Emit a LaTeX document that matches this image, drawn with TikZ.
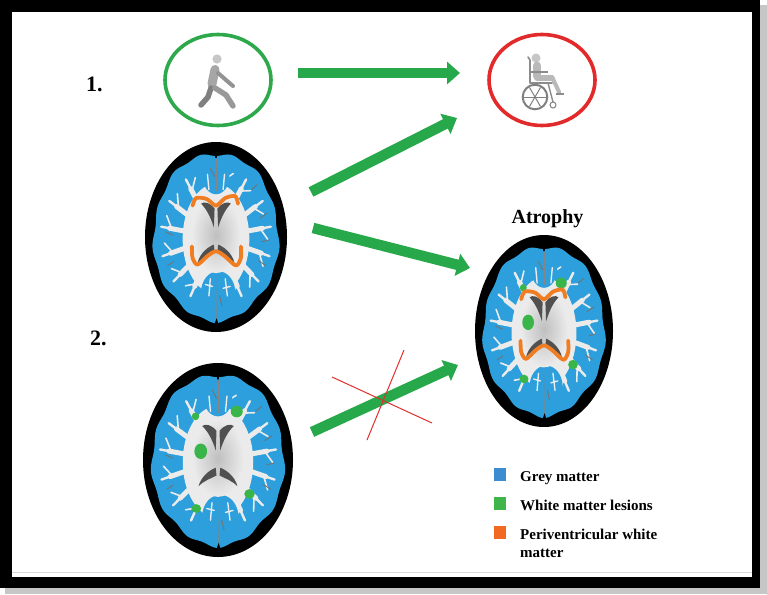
\documentclass[tikz,border=0pt]{standalone}
\usepackage{fontspec}
\setmainfont{Liberation Serif}
\usetikzlibrary{arrows.meta}
\definecolor{gmblue}{HTML}{2C9FDC}
\definecolor{wmc}{HTML}{EBEBEB}
\definecolor{arrowgreen}{HTML}{27A84A}
\definecolor{ringgreen}{HTML}{2DA84A}
\definecolor{ringred}{HTML}{E32A2A}
\definecolor{lesion}{HTML}{39B54A}
\definecolor{pvwm}{HTML}{F07D22}
\definecolor{ventc}{HTML}{505050}
\definecolor{legblue}{HTML}{3D8BD0}
\definecolor{leggreen}{HTML}{3DB54A}
\definecolor{legorange}{HTML}{F26A22}
\definecolor{xred}{HTML}{E0302F}
\tikzset{
  bigarrow/.style={draw=arrowgreen, line width=10.5pt, -{Triangle[length=13pt,width=22pt]}},
  crossline/.style={draw=xred, line width=1pt},
  ring/.style={line width=3.6pt},
  numlabel/.style={font=\bfseries\fontsize{22}{26}\selectfont, inner sep=0pt, anchor=base west},
  legtext/.style={font=\bfseries\fontsize{15}{18}\selectfont, inner sep=0pt, anchor=base west},
  legsq/.style={minimum size=12.5pt, inner sep=0pt, anchor=south west},
  wmline/.style={draw=wmc, line cap=round, line join=round},
  sulc/.style={draw=ventc!80, line width=0.9pt, line cap=round},
  pv/.style={draw=pvwm, line width=3.8pt, line cap=round, line join=round},
}
\newcommand\brainbase{%
  \fill[black] (0,0) ellipse [x radius=1, y radius=1];
  \fill[gmblue] plot[domain=0:358, samples=180] (\x:{0.88+0.015*sin(13*\x)+0.012*sin(5*\x)}) -- cycle;
  \fill[black] (-0.035,-0.93) -- (0,-0.8) -- (0.035,-0.93) -- cycle;
  \fill[black] (-0.025,0.93) -- (0.01,0.85) -- (0.035,0.93) -- cycle;
  \fill[wmc] (0,0.02) ellipse [x radius=0.47, y radius=0.58];
  \foreach \a/\l in {-55/0.74,-30/0.76,-8/0.78,15/0.78,38/0.76,60/0.72,
                     -125/0.74,-150/0.76,-172/0.78,165/0.78,142/0.76,120/0.72,
                     -80/0.76,-100/0.76}{
    \draw[wmline, line width=5pt] (\a:0.38) -- (\a:{\l-0.12});
    \draw[wmline, line width=2.4pt] (\a:0.5) -- (\a:\l);
    \draw[wmline, line width=1.6pt] (\a:{\l-0.15}) -- ({\a+10}:{\l-0.05});
  }
  \fill[gmblue] (0,-0.64) ellipse [x radius=0.19, y radius=0.19];
  \fill[gmblue] (0.03,0.58) ellipse [x radius=0.24, y radius=0.22];
  \draw[wmline, line width=1.4pt] (-0.08,0.44) -- (-0.1,0.62) (0.13,0.44) -- (0.16,0.62) (-0.05,0.52) -- (-0.15,0.5) (0.1,0.54) -- (0.2,0.52);
  \draw[wmline, line width=1.4pt] (-0.1,-0.5) -- (-0.12,-0.66) (0.1,-0.5) -- (0.12,-0.66);
  \shade[inner color=gray!50, outer color=wmc] (0,-0.02) ellipse [x radius=0.34, y radius=0.4];
  \draw[ventc!70, line width=0.8pt] (0,-0.82) -- (0,-0.48);
  \draw[ventc!70, line width=0.8pt] (0.02,0.38) -- (0.01,0.86);
  \fill[ventc] (-0.03,-0.1) .. controls (-0.08,-0.22) and (-0.14,-0.3) .. (-0.21,-0.35)
     .. controls (-0.17,-0.38) and (-0.08,-0.36) .. (-0.02,-0.3) -- cycle;
  \fill[ventc] (0.03,-0.1) .. controls (0.08,-0.22) and (0.14,-0.3) .. (0.21,-0.35)
     .. controls (0.17,-0.38) and (0.08,-0.36) .. (0.02,-0.3) -- cycle;
  \fill[ventc] (-0.03,0.08) .. controls (-0.1,0.1) and (-0.22,0.16) .. (-0.26,0.27)
     .. controls (-0.2,0.22) and (-0.1,0.19) .. (-0.02,0.16) -- cycle;
  \fill[ventc] (0.03,0.08) .. controls (0.1,0.1) and (0.22,0.16) .. (0.26,0.27)
     .. controls (0.2,0.22) and (0.1,0.19) .. (0.02,0.16) -- cycle;
  \draw[sulc] (0.62,-0.2) -- (0.72,-0.25) (0.65,0.05) -- (0.75,0.03) (0.6,0.25) -- (0.7,0.3)
     (-0.7,-0.05) -- (-0.6,-0.02) (-0.68,0.3) -- (-0.6,0.26) (0.5,-0.5) -- (0.58,-0.55)
     (-0.08,-0.72) -- (-0.02,-0.64) (0.05,0.62) -- (0.08,0.72);
}
\newcommand\greenparts{%
  \fill[lesion] (-0.3,-0.45) ellipse [x radius=0.05, y radius=0.04];
  \fill[lesion] (0.25,-0.5) ellipse [x radius=0.08, y radius=0.06];
  \fill[lesion] (-0.23,-0.09) ellipse [x radius=0.085, y radius=0.08];
  \fill[lesion] (0.42,0.35) ellipse [x radius=0.07, y radius=0.05];
  \fill[lesion] (-0.29,0.5) ellipse [x radius=0.065, y radius=0.045];
}
\newcommand\orangeparts{%
  \draw[pv] plot[smooth] coordinates {(-0.33,-0.33) (-0.28,-0.41) (-0.13,-0.40) (0,-0.33) (0.13,-0.41) (0.27,-0.43) (0.31,-0.35)};
  \draw[pv] plot[smooth] coordinates {(-0.34,0.1) (-0.33,0.22) (-0.26,0.29) (-0.12,0.2) (0,0.15) (0.12,0.2) (0.28,0.3) (0.35,0.22) (0.35,0.1)};
}
\newcommand\mybrain[5]{%
  \begin{scope}[shift={(#1,#2)}, xscale=#3, yscale=#4]
    \brainbase
    #5
  \end{scope}}
\begin{document}
\begin{tikzpicture}[x=1pt,y=-1pt]
\useasboundingbox (0,0) rectangle (767,594);
% frame with shadow
\fill[gray!45] (5,5) rectangle (767,594);
\fill[black] (0,0) rectangle (760,588);
\fill[white] (12,12) rectangle (752,577);
\draw[gray!30, line width=0.8pt] (12,572) -- (752,572);

% labels
\node[numlabel] (n1) at (86,91) {1.};
\node[numlabel] (n2) at (90,345) {2.};
\node[font=\bfseries\fontsize{20}{24}\selectfont, inner sep=0pt, anchor=base] (atro) at (547.5,223) {Atrophy};

% rings
\draw[ring, ringgreen] (218,80) ellipse [x radius=53, y radius=45.5];
\draw[ring, ringred] (542,80) ellipse [x radius=53, y radius=45.5];
\coordinate (walk) at (218,80);
\coordinate (chair) at (542,80);

% walking person
\fill[gray!45] (217,59) circle [radius=4.6];
\draw[line width=9pt, line cap=round, gray!70] (215,69.5) -- (212,84);
\draw[line width=4pt, line cap=round, line join=round, gray!85] (218,73) -- (226,80) -- (233,86);
\draw[line width=5.5pt, line cap=round, line join=round, gray!100] (211,88) -- (208,97) -- (201,105);
\draw[line width=5.5pt, line cap=round, line join=round, gray!80] (215,88) -- (226,95) -- (233,106);

% wheelchair person
\fill[gray!45] (536,58) circle [radius=4.5];
\draw[line width=8pt, line cap=round, gray!55] (537,65.5) -- (537,76);
\draw[line width=5.5pt, line cap=round, gray!55] (537,78) -- (552,78);
\draw[line width=4pt, line cap=round, gray!55] (553,79) -- (559,92);
\draw[line width=1.6pt, gray!90, line cap=round, line join=round] (528,57) -- (530,60) -- (530,83) -- (552,83);
\draw[line width=1.4pt, gray!90] (531,72) -- (548,72);
\draw[line width=1.4pt, gray!90] (548,83) -- (553,102);
\draw[line width=1.4pt, gray!90] (556,94) -- (564,94);
\draw[line width=2pt, gray!100] (535,97) circle [radius=12.3];
\foreach \a in {0,60,...,300}{\draw[line width=1pt, gray!100] (535,97) -- ++(\a:11);}
\draw[line width=1pt, gray!100] (553,105) circle [radius=3];

% brains
\mybrain{216}{237}{71}{95}{\orangeparts}
\mybrain{218}{460}{75}{97}{\greenparts}
\mybrain{544}{331}{69}{96}{\greenparts\orangeparts}
\coordinate (b1) at (216,237);
\coordinate (b2) at (218,460);
\coordinate (b3) at (544,331);

% arrows
\coordinate (a1s) at (298,73);  \coordinate (a1e) at (460,73);
\coordinate (a2s) at (311,192); \coordinate (a2e) at (457,118);
\coordinate (a3s) at (313,228); \coordinate (a3e) at (470,268);
\coordinate (a4s) at (312,432); \coordinate (a4e) at (458,365);
\draw[bigarrow] (a1s) -- (a1e);
\draw[bigarrow] (a2s) -- (a2e);
\draw[bigarrow] (a3s) -- (a3e);
\draw[bigarrow] (a4s) -- (a4e);

% cross
\coordinate (x1a) at (332,377); \coordinate (x1b) at (432,423);
\coordinate (x2a) at (404,350); \coordinate (x2b) at (367,440);
\draw[crossline] (x1a) -- (x1b);
\draw[crossline] (x2a) -- (x2b);

% legend
\node[legsq, fill=legblue] (s1) at (493.5,481) {};
\node[legsq, fill=leggreen] (s2) at (493.5,510) {};
\node[legsq, fill=legorange] (s3) at (493.5,539) {};
\node[legtext] (t1) at (520,481.5) {Grey matter};
\node[legtext] (t2) at (520,510) {White matter lesions};
\node[legtext] (t3) at (520,539) {Periventricular white};
\node[legtext] (t4) at (520,557) {matter};
\end{tikzpicture}
\end{document}
